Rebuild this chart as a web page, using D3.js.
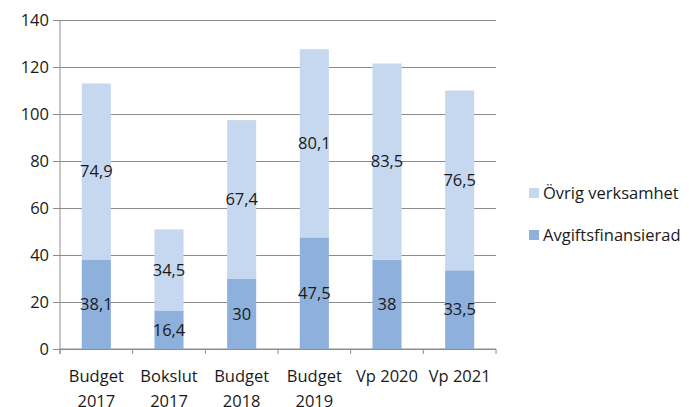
<!DOCTYPE html>
<html>
<head>
<meta charset="utf-8">
<script src="https://cdn.jsdelivr.net/npm/d3@7"></script>
<style>
  body { margin: 0; background: #fff; }
  svg text { font-family: "Open Sans", "Noto Sans", sans-serif; fill: #1a1a1a; }
</style>
</head>
<body>
<div id="chart"></div>
<script>
var categories = [["Budget", "2017"], ["Bokslut", "2017"], ["Budget", "2018"], ["Budget", "2019"], ["Vp 2020"], ["Vp 2021"]];
var avgifts = [38.1, 16.4, 30, 47.5, 38, 33.5];
var ovrig = [74.9, 34.5, 67.4, 80.1, 83.5, 76.5];
var yTicks = [0, 20, 40, 60, 80, 100, 120, 140];
var seriesNames = ["Avgiftsfinansierad", "Övrig verksamhet"];
var seriesColors = ["#8eb0dc", "#c6d8ef"];

var width = 689, height = 407;
var margin = {top: 20, left: 60, right: 193, bottom: 58};
var innerWidth = width - margin.left - margin.right;
var innerHeight = height - margin.top - margin.bottom;
var fontSize = 16.5;

var svg = d3.select("#chart").append("svg")
    .attr("width", width)
    .attr("height", height);
var chartGroup = svg.append("g")
    .attr("transform", "translate(" + margin.left + "," + margin.top + ")");

var xScale = d3.scaleBand()
    .domain(d3.range(categories.length))
    .range([0, innerWidth])
    .paddingInner(0.6)
    .paddingOuter(0.3);
var yScale = d3.scaleLinear()
    .domain([0, 140])
    .range([innerHeight, 0]);

// gridlines + y axis
var yAxis = d3.axisLeft(yScale).tickValues(yTicks).tickSize(7).tickPadding(4);
var yG = chartGroup.append("g").call(yAxis);
yG.select(".domain").remove();
yG.selectAll(".tick line").attr("x2", innerWidth).attr("x1", -7).attr("stroke", "#8c8c8c");
yG.selectAll(".tick text").attr("font-size", fontSize).attr("font-family", null).attr("fill", "#1a1a1a");
chartGroup.append("line")
    .attr("x1", 0).attr("x2", 0).attr("y1", 0).attr("y2", innerHeight + 5)
    .attr("stroke", "#8c8c8c");

// x axis ticks between categories
var step = innerWidth / categories.length;
var xG = chartGroup.append("g").attr("transform", "translate(0," + innerHeight + ")");
xG.append("line").attr("x1", 0).attr("x2", innerWidth).attr("stroke", "#8c8c8c");
xG.selectAll("line.tk").data(d3.range(categories.length + 1)).enter()
    .append("line")
    .attr("class", "tk")
    .attr("x1", function(d) { return d * step; })
    .attr("x2", function(d) { return d * step; })
    .attr("y1", 0).attr("y2", 5)
    .attr("stroke", "#8c8c8c");
var xLabels = xG.selectAll("text").data(categories).enter()
    .append("text")
    .attr("text-anchor", "middle")
    .attr("font-size", fontSize)
    .attr("x", function(d, i) { return xScale(i) + xScale.bandwidth() / 2; });
xLabels.selectAll("tspan").data(function(d) { return d; }).enter()
    .append("tspan")
    .attr("x", function() { return d3.select(this.parentNode).attr("x"); })
    .attr("y", function(d, i) { return 33 + i * 25; })
    .text(function(d) { return d; });

// stacked bars
var rows = categories.map(function(c, i) { return {i: i, a: avgifts[i], o: ovrig[i]}; });
var stack = d3.stack().keys(["a", "o"]);
var layers = stack(rows);

layers.forEach(function(layer, k) {
    var g = chartGroup.append("g");
    g.selectAll("rect").data(layer).enter()
        .append("rect")
        .attr("x", function(d) { return xScale(d.data.i); })
        .attr("width", xScale.bandwidth())
        .attr("y", function(d) { return yScale(d[1]); })
        .attr("height", function(d) { return yScale(d[0]) - yScale(d[1]); })
        .attr("fill", seriesColors[k]);
    g.selectAll("text").data(layer).enter()
        .append("text")
        .attr("text-anchor", "middle")
        .attr("dy", "0.35em")
        .attr("font-size", fontSize)
        .attr("x", function(d) { return xScale(d.data.i) + xScale.bandwidth() / 2; })
        .attr("y", function(d) { return yScale((d[0] + d[1]) / 2); })
        .text(function(d) { return String(k === 0 ? d.data.a : d.data.o).replace(".", ","); });
});

// legend
var legend = svg.append("g").attr("transform", "translate(529,188)");
var legendItems = [1, 0];
legendItems.forEach(function(k, j) {
    var item = legend.append("g").attr("transform", "translate(0," + (j * 42) + ")");
    item.append("rect").attr("width", 10).attr("height", 10).attr("fill", seriesColors[k]);
    item.append("text")
        .attr("x", 14).attr("y", 5)
        .attr("dy", "0.35em")
        .attr("font-size", fontSize)
        .text(seriesNames[k]);
});
</script>
</body>
</html>
